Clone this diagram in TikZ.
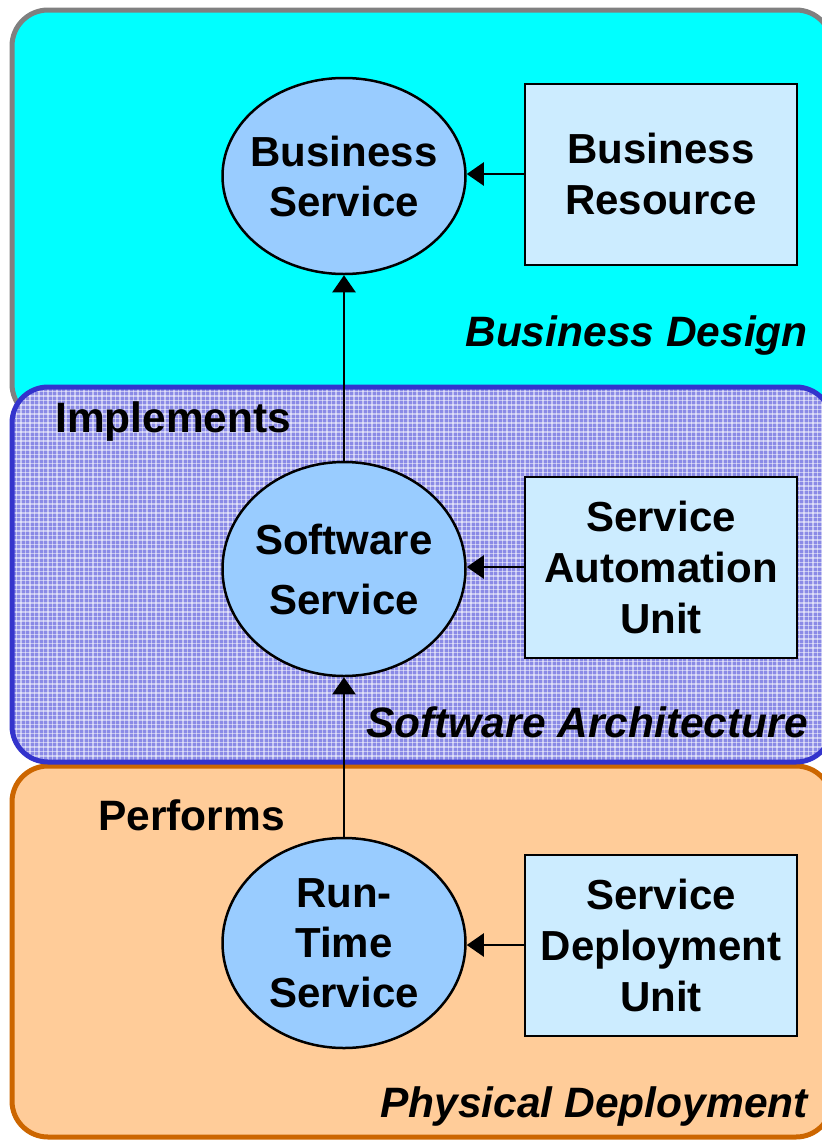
\documentclass[tikz,border=0pt]{standalone}
\usepackage{fontspec}
\setmainfont{Liberation Sans}
\usetikzlibrary{arrows.meta,shapes.geometric}
\definecolor{bandcyan}{HTML}{00FFFF}
\definecolor{bandgray}{HTML}{808080}
\definecolor{bandblue}{HTML}{3333CC}
\definecolor{bandlav}{HTML}{8A8AE6}
\definecolor{bandorange}{HTML}{FFCC99}
\definecolor{bandorangeb}{HTML}{CC6600}
\definecolor{ellfill}{HTML}{99CCFF}
\definecolor{boxfill}{HTML}{CCECFF}
\tikzset{
  band/.style={rounded corners=36pt, line width=5pt},
  svc/.style={ellipse, draw=black, line width=2.5pt, fill=ellfill, minimum width=243pt, inner xsep=-20pt, inner ysep=-20pt, align=center, font=\bfseries\fontsize{42}{50}\selectfont},
  res/.style={rectangle, draw=black, line width=2pt, fill=boxfill, minimum width=272pt, minimum height=181pt, inner sep=0pt, align=center, font=\bfseries\fontsize{42}{51}\selectfont},
  conn/.style={line width=2.2pt, -{Triangle[length=17pt,width=23pt]}},
  bandlabel/.style={font=\bfseries\itshape\fontsize{42.5}{50}\selectfont, inner sep=0pt},
  rellabel/.style={font=\bfseries\fontsize{42.5}{50}\selectfont, inner sep=0pt}
}
\begin{document}
\begin{tikzpicture}[x=1pt,y=-1pt]
\useasboundingbox (0,0) rectangle (822,1141);
% bands
\draw[band, draw=bandgray, fill=bandcyan] (12,10) rectangle (832,420);
\draw[band, draw=bandorangeb, fill=bandorange] (12,766) rectangle (832,1137);
\fill[bandlav, rounded corners=36pt] (12,387) rectangle (832,762);
\begin{scope}
\clip[rounded corners=36pt] (12,387) rectangle (832,762);
\foreach \i in {0,...,183} {
  \draw[white, opacity=0.5, line width=1.2pt] (12+4.5*\i,387) -- (12+4.5*\i,762);
}
\foreach \j in {0,...,84} {
  \draw[white, opacity=0.5, line width=1.2pt] (12,387+4.5*\j) -- (832,387+4.5*\j);
}
\end{scope}
\draw[band, draw=bandblue] (12,387) rectangle (832,762);
% labels
\node[bandlabel, anchor=base east] (lbd) at (808,346) {Business Design};
\node[bandlabel, anchor=base east] (lsa) at (808,737) {Software Architecture};
\node[bandlabel, anchor=base east] (lpd) at (808,1117) {Physical Deployment};
\node[rellabel, anchor=base west] (limp) at (55,432) {Implements};
\node[rellabel, anchor=base west] (lperf) at (98,830) {Performs};
% nodes
\node[svc, minimum height=196pt] (bs) at (344,176) {Business\\Service};
\node[res] (br) at (661,174) {Business\\Resource};
\node[svc, minimum height=214pt] (ss) at (344,569) {Software\\[10pt]Service};
\node[res] (sau) at (661,567) {Service\\Automation\\Unit};
\node[svc, minimum height=210pt] (rts) at (344,943) {Run-\\Time\\Service};
\node[res] (sdu) at (661,945) {Service\\Deployment\\Unit};
% connectors
\draw[conn] (br.west) -- (bs.east |- br.west);
\draw[conn] (sau.west) -- (ss.east |- sau.west);
\draw[conn] (sdu.west) -- (rts.east |- sdu.west);
\draw[conn] (ss.north) -- (bs.south);
\draw[conn] (rts.north) -- (ss.south);
\end{tikzpicture}
\end{document}
